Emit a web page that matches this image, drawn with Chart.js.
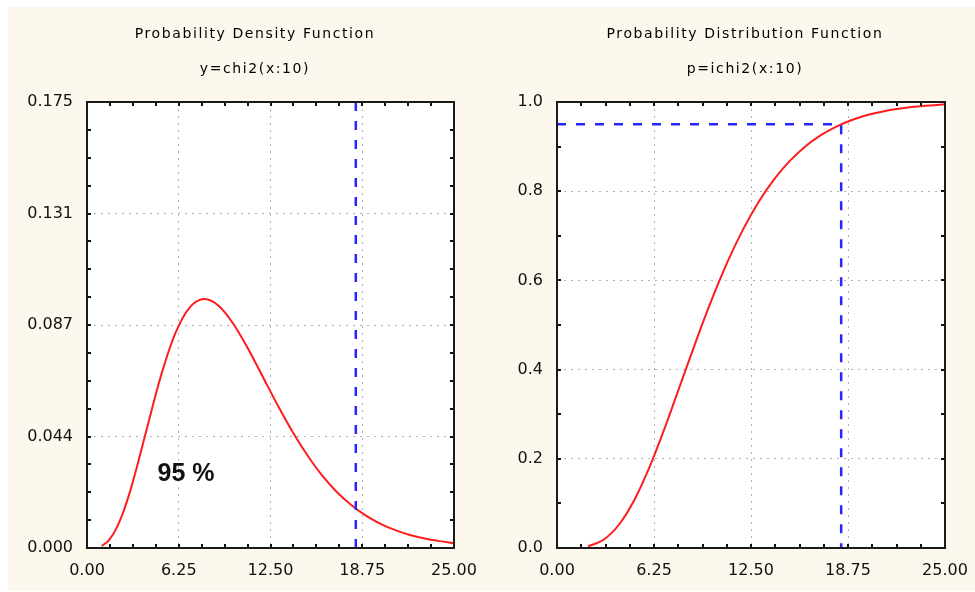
<!DOCTYPE html>
<html><head><meta charset="utf-8">
<script src="https://cdn.jsdelivr.net/npm/chart.js@4/dist/chart.umd.min.js"></script>
<style>
html,body{margin:0;padding:0;background:#fff;}
body{width:975px;height:592px;position:relative;overflow:hidden;}
#bg{position:absolute;left:8px;top:7px;width:967px;height:584px;background:#fdf8ed;}
#c1{position:absolute;left:0;top:0;}
#c2{position:absolute;left:487px;top:0;}
</style></head><body>
<div id="bg"></div>
<canvas id="c1" width="487" height="592"></canvas>
<canvas id="c2" width="488" height="592"></canvas>
<script>
// ---- data ----
const pdfX = [1,1.5,2,2.5,3,3.5,4,5,6,7,8,9,10,11,12,13,14,15,16,17,18,19,20,21,22,23,24,25];
const pdfY = [0.0008,0.0031,0.0077,0.0146,0.0235,0.0340,0.0451,0.0668,0.0840,0.0944,0.0977,0.0949,0.0877,0.0779,0.0669,0.0559,0.0456,0.0365,0.0286,0.0221,0.0169,0.0127,0.0095,0.0070,0.0051,0.0037,0.0027,0.0019];
const cdfX = [2,3,4,5,6,7,8,9,10,11,12,13,14,15,16,17,18,19,20,21,22,23,24,25];
const cdfY = [0.0037,0.0186,0.0527,0.1088,0.1847,0.2746,0.3712,0.4679,0.5595,0.6425,0.7149,0.7763,0.8270,0.8679,0.9004,0.9256,0.9450,0.9597,0.9707,0.9789,0.9849,0.9893,0.9924,0.9947];
const critX = 18.31;
const critP = 0.95;
const xTickValues = [0, 6.25, 12.5, 18.75, 25];
const xTickLabels = ["0.00","6.25","12.50","18.75","25.00"];
const pdfTickValues = [0, 0.04375, 0.0875, 0.13125, 0.175];
const pdfTickLabels = ["0.000","0.044","0.087","0.131","0.175"];
const cdfTickValues = [0, 0.2, 0.4, 0.6, 0.8, 1.0];
const cdfTickLabels = ["0.0","0.2","0.4","0.6","0.8","1.0"];
const pdfTitles = ["Probability Density Function", "y=chi2(x:10)"];
const cdfTitles = ["Probability Distribution Function", "p=ichi2(x:10)"];
const pdfNote = {text: "95 %", x: 6.75, y: 0.029};

// ---- styling ----
const RED = '#ff1c1c', BLUE = '#2626ff', INK = '#111';
const tickFont = {family: '"DejaVu Sans", sans-serif', size: 16};

const deco = {
  id: 'deco',
  beforeDraw(chart) {
    const {ctx, chartArea: a} = chart;
    ctx.save();
    ctx.fillStyle = '#fff';
    ctx.fillRect(a.left, a.top, a.right - a.left, a.bottom - a.top);
    ctx.restore();
  },
  afterDraw(chart, args, o) {
    const {ctx, chartArea: a, scales: {x, y}} = chart;
    ctx.save();
    ctx.strokeStyle = INK;
    ctx.lineWidth = 2;
    const L = 4;
    ctx.beginPath();
    for (let i = 1; i < o.xDiv; i++) {
      const px = Math.round(x.getPixelForValue(x.min + (x.max - x.min) * i / o.xDiv));
      ctx.moveTo(px, a.top); ctx.lineTo(px, a.top + L);
      ctx.moveTo(px, a.bottom); ctx.lineTo(px, a.bottom - L);
    }
    for (let i = 1; i < o.yDiv; i++) {
      const py = Math.round(y.getPixelForValue(y.min + (y.max - y.min) * i / o.yDiv));
      ctx.moveTo(a.left, py); ctx.lineTo(a.left + L, py);
      ctx.moveTo(a.right, py); ctx.lineTo(a.right - L, py);
    }
    ctx.stroke();
    ctx.strokeStyle = '#1a1a1a';
    ctx.strokeRect(a.left, a.top, a.right - a.left, a.bottom - a.top);
    // titles
    ctx.fillStyle = '#000';
    ctx.font = '14px "DejaVu Sans", sans-serif';
    try { ctx.letterSpacing = '1.6px'; } catch (e) {}
    ctx.textAlign = 'center';
    ctx.textBaseline = 'middle';
    ctx.fillText(o.titles[0], o.titleX, 34);
    ctx.fillText(o.titles[1], o.titleX, 69);
    try { ctx.letterSpacing = '0px'; } catch (e) {}
    if (o.note) {
      ctx.fillStyle = INK;
      ctx.font = 'bold 25px "Liberation Sans", Arial, sans-serif';
      ctx.fillText(o.note.text, x.getPixelForValue(o.note.x), y.getPixelForValue(o.note.y));
    }
    ctx.restore();
  }
};

function gridColor(maxV) {
  return c => (c.tick && (c.tick.value === 0 || Math.abs(c.tick.value - maxV) < 1e-9)) ? 'rgba(0,0,0,0)' : '#b0b0b0';
}

function makeChart(id, cfg) {
  return new Chart(document.getElementById(id), {
    type: 'line',
    data: {datasets: cfg.datasets},
    options: {
      responsive: false, animation: false, devicePixelRatio: 1,
      layout: {padding: {left: 0, top: 102, right: cfg.padRight, bottom: 0}},
      plugins: {legend: {display: false}, tooltip: {enabled: false}, title: {display: false},
        deco: cfg.deco},
      elements: {point: {radius: 0}},
      scales: {
        x: {
          type: 'linear', min: 0, max: 25,
          afterBuildTicks: s => { s.ticks = xTickValues.map(v => ({value: v})); },
          afterFit: s => { s.height = 44; s.paddingLeft = 0; s.paddingRight = 0; },
          ticks: {callback: (v, i) => xTickLabels[i], font: tickFont, color: INK, padding: 13, maxRotation: 0, autoSkip: false},
          grid: {color: gridColor(25), lineWidth: 1, drawTicks: false},
          border: {display: false, dash: [2, 5]}
        },
        y: {
          type: 'linear', min: 0, max: cfg.yMax,
          afterBuildTicks: s => { s.ticks = cfg.yTicks.map(v => ({value: v})); },
          afterFit: s => { s.width = cfg.yWidth; s.paddingTop = 0; s.paddingBottom = 0; },
          ticks: {callback: (v, i) => cfg.yLabels[i], font: tickFont, color: INK, padding: 14, autoSkip: false},
          grid: {color: gridColor(cfg.yMax), lineWidth: 1, drawTicks: false},
          border: {display: false, dash: [2, 5]}
        }
      }
    },
    plugins: [deco]
  });
}

makeChart('c1', {
  padRight: 33, yWidth: 87, yMax: 0.175, yTicks: pdfTickValues, yLabels: pdfTickLabels,
  deco: {xDiv: 16, yDiv: 16, titles: pdfTitles, titleX: 255, note: pdfNote},
  datasets: [
    {data: [{x: critX, y: 0}, {x: critX, y: 0.175}], borderColor: BLUE, borderWidth: 2.5, borderDash: [9, 10], tension: 0, fill: false},
    {data: pdfX.map((v, i) => ({x: v, y: pdfY[i]})), borderColor: RED, borderWidth: 2, cubicInterpolationMode: 'monotone', fill: false}
  ]
});

makeChart('c2', {
  padRight: 30, yWidth: 70, yMax: 1.0, yTicks: cdfTickValues, yLabels: cdfTickLabels,
  deco: {xDiv: 16, yDiv: 10, titles: cdfTitles, titleX: 258, note: null},
  datasets: [
    {data: [{x: 0, y: critP}, {x: critX, y: critP}, {x: critX, y: 0}], borderColor: BLUE, borderWidth: 2.5, borderDash: [9, 10], tension: 0, fill: false},
    {data: cdfX.map((v, i) => ({x: v, y: cdfY[i]})), borderColor: RED, borderWidth: 2, cubicInterpolationMode: 'monotone', fill: false}
  ]
});
</script>
</body></html>
